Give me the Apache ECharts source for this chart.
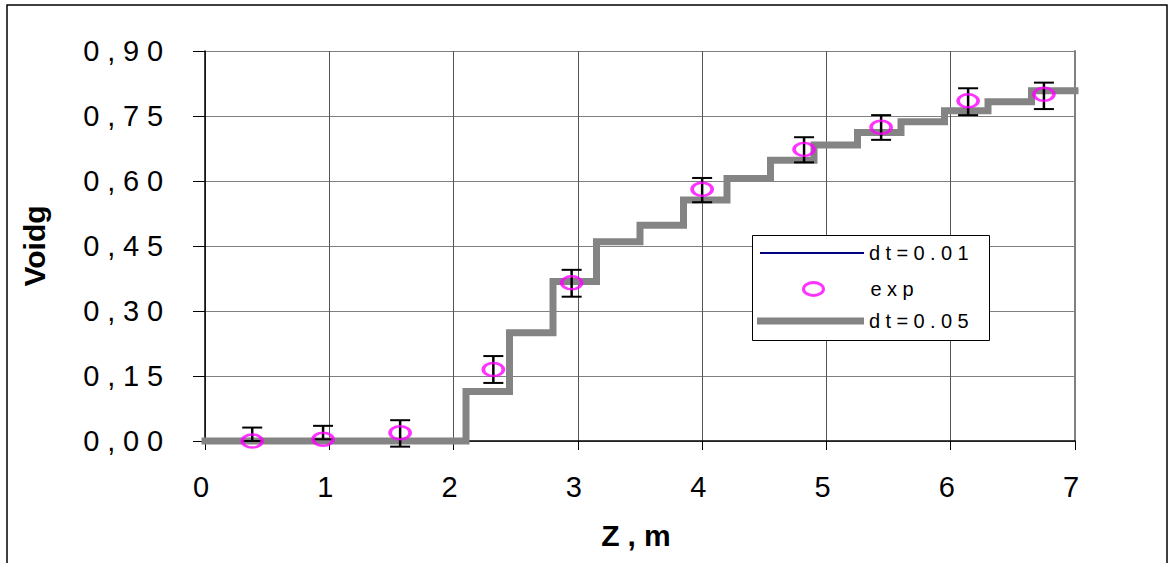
<!DOCTYPE html>
<html>
<head>
<meta charset="utf-8">
<script src="https://cdn.jsdelivr.net/npm/echarts@6/dist/echarts.min.js"></script>
<style>
  html, body { margin: 0; padding: 0; background: #fff; }
  #chart { width: 1170px; height: 563px; }
  #chart text { letter-spacing: 0.27em; }
  #chart text[style*="sans-serif"] { letter-spacing: 0; }
</style>
</head>
<body>
<div id="chart"></div>
<script>
// ---- data ----
const xTicks = [0, 1, 2, 3, 4, 5, 6, 7];
const yTickLabels = ['0,00', '0,15', '0,30', '0,45', '0,60', '0,75', '0,90'];

// step positions (Z, m) and void levels after each step
const stepZ   = [0, 2.10, 2.45, 2.80, 3.15, 3.50, 3.85, 4.20, 4.55, 4.90, 5.25, 5.60, 5.95, 6.30, 6.65, 7.00];
const stepV05 = [0, 0.114, 0.250, 0.368, 0.460, 0.498, 0.556, 0.606, 0.648, 0.683, 0.712, 0.737, 0.762, 0.783, 0.808, 0.808];
const stepV01 = [0, 0.114, 0.250, 0.368, 0.460, 0.498, 0.556, 0.606, 0.648, 0.683, 0.712, 0.737, 0.762, 0.783, 0.808, 0.808];

// experimental points
const expZ     = [0.38, 0.95, 1.57, 2.32, 2.95, 4.00, 4.82, 5.44, 6.14, 6.75];
const expV     = [0.000, 0.004, 0.019, 0.165, 0.365, 0.581, 0.673, 0.724, 0.785, 0.800];
const errPlus  = [0.031, 0.031, 0.029, 0.031, 0.030, 0.026, 0.028, 0.028, 0.029, 0.027];
const errMinus = [0.000, 0.000, 0.032, 0.031, 0.032, 0.030, 0.030, 0.029, 0.033, 0.034];

const NAME01 = 'dt=0.01', NAMEEXP = 'exp', NAME05 = 'dt=0.05';
const FONT = 'Liberation Sans';
const ellipse = 'path://M0,-6.5C5.52,-6.5 10,-3.59 10,0C10,3.59 5.52,6.5 0,6.5C-5.52,6.5 -10,3.59 -10,0C-10,-3.59 -5.52,-6.5 0,-6.5Z';

const line01 = stepZ.map((z, i) => [z, stepV01[i]]);
const line05 = stepZ.map((z, i) => [z, stepV05[i]]);
const expData = expZ.map((z, i) => [z, expV[i]]);
const errData = expZ.map((z, i) => [z, expV[i] - errMinus[i], expV[i] + errPlus[i]]);

const chart = echarts.init(document.getElementById('chart'), null, { renderer: 'svg' });

const legendText = { color: '#000', fontSize: 20, fontFamily: FONT };

chart.setOption({
  animation: false,
  backgroundColor: '#fff',
  grid: { left: 205, right: 95, top: 51, bottom: 122, show: false },
  xAxis: {
    type: 'value', min: 0, max: 7, interval: 1,
    name: 'Z,m', nameLocation: 'middle', nameGap: 79,
    nameTextStyle: { fontFamily: FONT, fontWeight: 'bold', fontSize: 30, color: '#000' },
    axisLine: { show: true, onZero: false, lineStyle: { color: '#000', width: 1.5 } },
    axisTick: { show: true, length: 9, lineStyle: { color: '#000', width: 1 } },
    axisLabel: { margin: 31, fontSize: 29, fontFamily: FONT, color: '#000',
      formatter: v => String(xTicks[Math.round(v)]) },
    splitLine: { show: true, lineStyle: { color: '#555', width: 1 } }
  },
  yAxis: [{
    type: 'value', min: 0, max: 0.9, interval: 0.15,
    name: 'Voidg', nameLocation: 'middle', nameGap: 156, nameRotate: 90,
    nameTextStyle: { fontFamily: FONT + ', sans-serif', fontWeight: 'bold', fontSize: 30, color: '#000' },
    axisLine: { show: true, lineStyle: { color: '#000', width: 1.5 } },
    axisTick: { show: true, length: 12, lineStyle: { color: '#000', width: 1 } },
    axisLabel: { margin: 34, fontSize: 29, fontFamily: FONT, color: '#000',
      formatter: v => yTickLabels[Math.round(v / 0.15)] },
    splitLine: { show: true, lineStyle: { color: '#808080', width: 1 } }
  }, {
    type: 'value', min: 0, max: 0.9, interval: 0.15, position: 'right',
    axisLine: { show: true, lineStyle: { color: '#808080', width: 2 } },
    axisTick: { show: false }, axisLabel: { show: false }, splitLine: { show: false }
  }],
  legend: [
    { data: [{ name: NAME01, icon: 'rect' }], left: 760, top: 243, padding: 0,
      itemWidth: 104, itemHeight: 2, selectedMode: false,
      itemStyle: { color: '#000080', borderWidth: 0 }, textStyle: legendText },
    { data: [{ name: NAMEEXP, icon: ellipse }], left: 802, top: 279, padding: 0,
      itemWidth: 20, itemHeight: 13, selectedMode: false,
      itemStyle: { color: 'transparent', borderColor: '#ff00ff', borderWidth: 3 },
      textStyle: Object.assign({ padding: [0, 0, 0, 42] }, legendText) },
    { data: [{ name: NAME05, icon: 'rect' }], left: 757, top: 311, padding: 0,
      itemWidth: 107, itemHeight: 7, selectedMode: false,
      itemStyle: { color: '#848484', borderWidth: 0 }, textStyle: legendText }
  ],
  graphic: [
    { type: 'rect', z: 3, shape: { x: 752.5, y: 235.5, width: 237, height: 105 },
      style: { fill: '#fff', stroke: '#000', lineWidth: 1 } },
    { type: 'rect', z: 10, silent: true, shape: { x: 7, y: 5, width: 1160, height: 620 },
      style: { fill: 'none', stroke: '#000', lineWidth: 1.5 } }
  ],
  series: [
    { name: NAME01, type: 'line', step: 'end', data: line01, showSymbol: false, symbol: 'none',
      clip: false, z: 2, lineStyle: { color: '#000080', width: 2 }, itemStyle: { color: '#000080' } },
    { name: NAME05, type: 'line', step: 'end', data: line05, showSymbol: false, symbol: 'none',
      clip: false, z: 3, lineStyle: { color: '#848484', width: 7, cap: 'square', join: 'miter' },
      itemStyle: { color: '#848484' } },
    { name: 'err', type: 'custom', z: 4, data: errData, encode: { x: 0, y: [1, 2] },
      renderItem: (params, api) => {
        const x = api.value(0);
        const lo = api.coord([x, api.value(1)]);
        const hi = api.coord([x, api.value(2)]);
        const hw = 10;
        const st = { stroke: '#000', lineWidth: 2 };
        return { type: 'group', children: [
          { type: 'line', shape: { x1: lo[0], y1: lo[1], x2: hi[0], y2: hi[1] }, style: { stroke: '#000', lineWidth: 2.5 } },
          { type: 'line', shape: { x1: hi[0] - hw, y1: hi[1], x2: hi[0] + hw, y2: hi[1] }, style: st },
          { type: 'line', shape: { x1: lo[0] - hw, y1: lo[1], x2: lo[0] + hw, y2: lo[1] }, style: st }
        ] };
      } },
    { name: NAMEEXP, type: 'scatter', z: 5, data: expData, symbol: ellipse, symbolSize: [20, 13],
      itemStyle: { color: 'transparent', borderColor: '#ff00ff', borderWidth: 3 } }
  ]
});
</script>
</body>
</html>
